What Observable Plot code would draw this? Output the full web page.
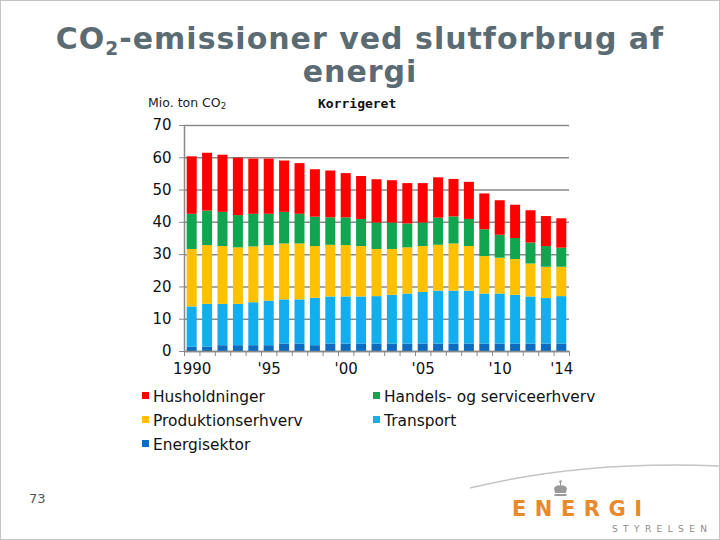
<!DOCTYPE html>
<html><head><meta charset="utf-8">
<script src="https://cdn.jsdelivr.net/npm/d3@7"></script>
<script src="https://cdn.jsdelivr.net/npm/@observablehq/plot@0.6"></script>
<style>
html,body{margin:0;padding:0;background:#fff;}
#slide{position:relative;width:720px;height:540px;overflow:hidden;font-family:"DejaVu Sans",sans-serif;}
#border{position:absolute;left:0;top:0;width:720px;height:540px;box-sizing:border-box;border:1px solid #c4c4c4;pointer-events:none;}
#title{position:absolute;left:0;top:22px;width:720px;text-align:center;font-weight:bold;font-size:30px;line-height:33px;color:#5b6b73;letter-spacing:1px;}
#title sub{font-size:0.62em;line-height:0;vertical-align:-0.3em;}
#unit{position:absolute;left:148px;top:97px;font-size:12.5px;line-height:12.5px;color:#222;}
#unit sub{font-size:0.7em;line-height:0;vertical-align:-0.2em;}
#korr{position:absolute;left:318px;top:97px;font-family:"DejaVu Sans Mono",monospace;font-weight:bold;font-size:13px;line-height:13px;color:#111;}
#chart{position:absolute;left:113px;top:112px;}
.lg{position:absolute;font-size:15.4px;line-height:18px;color:#111;white-space:nowrap;}
.sw{position:absolute;width:7px;height:7px;}
#page{position:absolute;left:29px;top:491px;font-size:13px;color:#555;}
#logo{position:absolute;left:512px;top:497px;font-weight:bold;font-size:21px;line-height:24px;letter-spacing:8.5px;color:#e8892b;font-family:"DejaVu Sans",sans-serif;}
#sty{position:absolute;left:612px;top:524px;font-size:9px;line-height:11px;letter-spacing:5.4px;color:#8a8a8a;}
#deco{position:absolute;left:0;top:0;}
</style></head><body>
<div id="slide">
  <svg id="deco" width="720" height="540">
    <path d="M470 488 Q 585 460 720 466" fill="none" stroke="#c4c4c4" stroke-width="1.5"/>
    <g fill="#9a9a9a" transform="translate(553,480)">
      <circle cx="7.5" cy="1.5" r="1.3"/>
      <rect x="7" y="2" width="1" height="4"/>
      <path d="M1 8 Q 4 4 7.5 6 Q 11 4 14 8 L 13 13 L 2 13 Z"/>
      <rect x="1.5" y="14" width="12" height="2"/>
    </g>
  </svg>
  <div id="title">CO<sub>2</sub>-emissioner ved slutforbrug af<br>energi</div>
  <div id="unit">Mio. ton CO<sub>2</sub></div>
  <div id="korr">Korrigeret</div>
  <div id="chart"></div>
  <div id="legend"></div>
  <div id="page">73</div>
  <div id="logo">ENERGI</div>
  <div id="sty">STYRELSEN</div>
  <div id="border"></div>
</div>
<script>
const years = [1990,1991,1992,1993,1994,1995,1996,1997,1998,1999,2000,2001,2002,2003,2004,2005,2006,2007,2008,2009,2010,2011,2012,2013,2014];
const energisektor = [1.3,1.3,1.8,1.8,1.8,1.8,2.3,2.3,1.8,2.3,2.3,2.3,2.3,2.3,2.3,2.3,2.3,2.3,2.3,2.3,2.3,2.3,2.3,2.3,2.3];
const transport = [12.5,13.3,12.8,12.8,13.3,13.8,13.7,13.7,14.7,14.6,14.6,14.6,14.7,15.1,15.5,16.0,16.4,16.4,16.4,15.5,15.5,15.1,14.6,14.1,14.7];
const produktionserhverv = [17.8,18.2,17.9,17.5,17.3,17.2,17.3,17.3,16.0,16.0,15.9,15.6,14.6,14.2,14.3,14.2,14.2,14.6,13.8,11.6,11.1,11.1,10.2,9.7,9.1];
const handelsOgService = [10.9,10.7,10.6,10.0,10.1,9.7,9.8,9.2,9.1,8.5,8.6,8.4,8.2,8.2,7.4,7.3,8.4,8.4,8.4,8.3,7.1,6.5,6.5,6.4,5.9];
const husholdninger = [17.8,17.9,17.7,17.8,17.1,17.1,15.9,15.7,14.7,14.5,13.7,13.3,13.4,13.1,12.5,12.2,12.5,11.6,11.5,11.1,10.7,10.3,10.0,9.3,9.1];

// stack order bottom -> top
const seriesNames = ["Energisektor","Transport","Produktionserhverv","Handels- og serviceerhverv","Husholdninger"];
const seriesValues = [energisektor, transport, produktionserhverv, handelsOgService, husholdninger];
const seriesColors = ["#0d6cbf","#13aeee","#ffc000","#10a54e","#fe0000"];
// legend order (row-major, two columns)
const legendOrder = ["Husholdninger","Handels- og serviceerhverv","Produktionserhverv","Transport","Energisektor"];

const yTicks = [0,10,20,30,40,50,60,70];
const xLabelYears = [1990,1995,2000,2005,2010,2014];
const xLabels = ["1990","'95","'00","'05","'10","'14"];

const data = [];
years.forEach((yr, i) => {
  seriesNames.forEach((name, s) => data.push({year: yr, series: name, value: seriesValues[s][i]}));
});
const boundaries = years.map(y => y - 0.5).concat([years[years.length - 1] + 0.5]);
const gray = "#8a8a8a";

const chart = Plot.plot({
  width: 470, height: 285,
  marginLeft: 71, marginRight: 14, marginTop: 13, marginBottom: 46,
  style: {fontFamily: "DejaVu Sans, sans-serif", fontSize: "15px", color: "#111", background: "transparent", overflow: "visible"},
  x: {domain: [boundaries[0], boundaries[boundaries.length - 1]]},
  y: {domain: [0, 70]},
  color: {domain: seriesNames, range: seriesColors},
  marks: [
    Plot.gridY({ticks: yTicks, stroke: gray, strokeOpacity: 1, strokeWidth: 1.5}),
    Plot.axisY({ticks: yTicks, tickSize: 5, tickPadding: 8, stroke: gray, fontSize: 15, label: null}),
    Plot.rectY(data, {x1: d => d.year - 0.5, x2: d => d.year + 0.5, y: "value", fill: "series", insetLeft: 2.7, insetRight: 2.7}),
    Plot.ruleX([boundaries[0]], {stroke: gray, strokeWidth: 1.5}),
    Plot.ruleY([0], {stroke: gray, strokeWidth: 1.5}),
    Plot.axisX({ticks: boundaries, tickFormat: () => "", tickSize: 5, stroke: gray, label: null}),
    Plot.axisX({ticks: xLabelYears, tickFormat: d => xLabels[xLabelYears.indexOf(d)], tickSize: 0, tickPadding: 12, fontSize: 15, label: null})
  ]
});
document.getElementById("chart").appendChild(chart);

const legend = document.getElementById("legend");
const colX = [142, 373], rowTop = [388, 412, 436];
legendOrder.forEach((name, k) => {
  const col = k % 2, row = Math.floor(k / 2);
  const sw = document.createElement("div");
  sw.className = "sw";
  sw.style.left = colX[col] + "px";
  sw.style.top = (rowTop[row] + 4) + "px";
  sw.style.background = seriesColors[seriesNames.indexOf(name)];
  legend.appendChild(sw);
  const t = document.createElement("div");
  t.className = "lg";
  t.style.left = (colX[col] + 11) + "px";
  t.style.top = rowTop[row] + "px";
  t.textContent = name;
  legend.appendChild(t);
});
</script>
</body></html>
